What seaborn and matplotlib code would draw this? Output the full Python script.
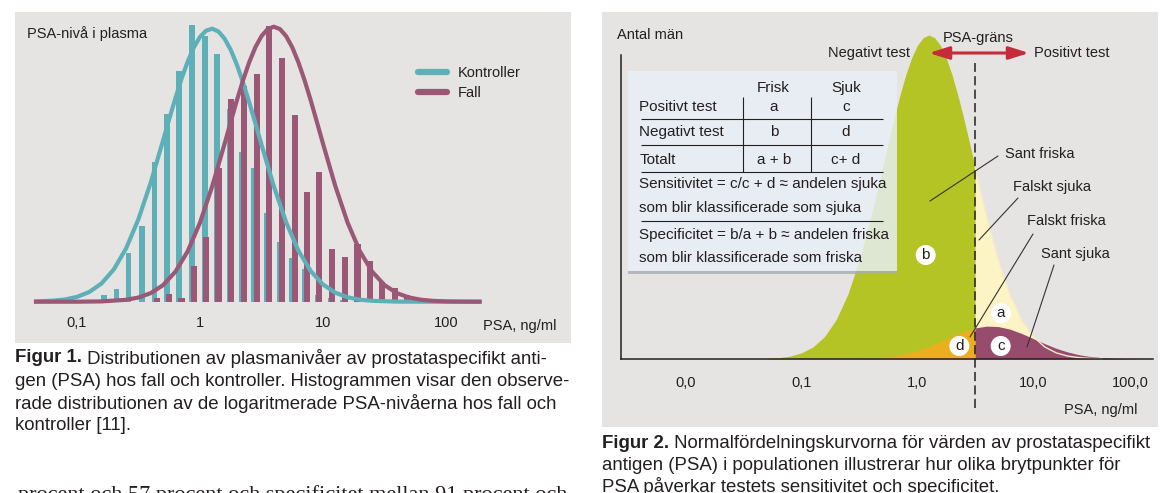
import numpy as np
import matplotlib.pyplot as plt
import seaborn as sns
from matplotlib.lines import Line2D
from matplotlib.patches import Rectangle, Circle, FancyArrowPatch

# ---------------- Figur 1: histogram of log10(PSA), bar heights as read ----------------
kontroller_log_psa = [-0.78, -0.68, -0.58, -0.47, -0.37, -0.27, -0.17, -0.065, 0.04, 0.14,
                      0.24, 0.34, 0.44, 0.545, 0.65, 0.75, 0.855, 0.96, 1.06, 1.16]
kontroller_antal = [7, 13, 49, 76, 140, 188, 231, 277, 266, 248,
                    193, 150, 134, 89, 60, 44, 33, 7, 4, 2]
fall_log_psa = [-0.35, -0.25, -0.15, -0.05, 0.05, 0.15, 0.25, 0.36, 0.46, 0.56, 0.665,
                0.77, 0.87, 0.97, 1.075, 1.18, 1.28, 1.38, 1.48, 1.585, 1.685, 1.79]
fall_antal = [4, 8, 4, 36, 65, 134, 203, 216, 228, 276, 244,
              187, 110, 130, 53, 45, 58, 41, 20, 14, 7, 3]

# fitted curves
kurva_x_kontroller = [-1.35, -1.2, -1.1, -1.0, -0.9, -0.8, -0.7, -0.6, -0.5, -0.4,
                      -0.3, -0.25, -0.2, -0.15, -0.1, -0.05, 0.0, 0.05, 0.1, 0.15,
                      0.2, 0.25, 0.3, 0.35, 0.4, 0.45, 0.5, 0.6, 0.7, 0.8,
                      0.9, 1.0, 1.1, 1.2, 1.3, 1.4, 1.6, 1.9, 2.29]
kurva_kontroller = [0.2, 1.0, 2.2, 4.8, 9.7, 18.3, 32.4, 53.5, 82.7, 119.4,
                    161.3, 182.7, 203.5, 223.0, 240.1, 254.3, 264.8, 271.1, 273.0, 270.2,
                    263.0, 251.8, 236.9, 219.2, 199.5, 178.5, 157.0, 115.5, 79.4, 51.0,
                    30.7, 17.2, 9.0, 4.4, 2.0, 0.9, 0.1, 0.0, 0.0]
kurva_x_fall = [-1.35, -1.0, -0.8, -0.6, -0.5, -0.4, -0.3, -0.2, -0.1, 0.0,
                0.1, 0.2, 0.25, 0.3, 0.35, 0.4, 0.45, 0.5, 0.55, 0.6,
                0.65, 0.7, 0.75, 0.8, 0.85, 0.9, 0.95, 1.0, 1.1, 1.2,
                1.3, 1.4, 1.5, 1.6, 1.7, 1.8, 1.9, 2.0, 2.1, 2.29]
kurva_fall = [0.0, 0.0, 0.3, 1.9, 4.2, 8.6, 16.6, 30.0, 50.4, 79.1,
              115.7, 158.0, 179.9, 201.4, 221.5, 239.4, 254.4, 265.6, 272.6, 275.0,
              272.6, 265.6, 254.4, 239.4, 221.5, 201.4, 179.9, 158.0, 115.7, 79.1,
              50.4, 30.0, 16.6, 8.6, 4.2, 1.9, 0.8, 0.3, 0.1, 0.0]
fig1_ticks = [0.1, 1, 10, 100]
fig1_ticklabels = ['0,1', '1', '10', '100']

# ---------------- Figur 2: normal curves for healthy / sick ----------------
frisk_log_psa = [-1.3, -1.2, -1.1, -1.0, -0.9, -0.8, -0.7, -0.6, -0.5, -0.4,
                 -0.3, -0.25, -0.2, -0.15, -0.1, -0.05, 0.0, 0.05, 0.1, 0.15,
                 0.2, 0.25, 0.3, 0.35, 0.4, 0.45, 0.5, 0.55, 0.6, 0.7,
                 0.8, 0.9, 1.0, 1.1, 1.2, 1.3, 1.4, 1.5, 1.6]
frisk_antal = [0.5, 1.3, 2.9, 6.1, 12.1, 22.6, 39.5, 64.7, 99.2, 142.4,
               191.5, 216.6, 241.0, 263.8, 284.1, 300.9, 313.5, 321.3, 324.0, 321.3,
               313.5, 300.9, 284.1, 263.8, 241.0, 216.6, 191.5, 166.5, 142.4, 99.2,
               64.7, 39.5, 22.6, 12.1, 6.1, 2.9, 1.3, 0.5, 0.2]
sjuk_log_psa = [-0.6, -0.5, -0.4, -0.3, -0.2, -0.1, 0.0, 0.1, 0.2, 0.3,
                0.4, 0.5, 0.6, 0.7, 0.8, 0.9, 1.0, 1.1, 1.2, 1.3,
                1.4, 1.5, 1.6, 1.7, 1.8, 1.9, 2.0]
sjuk_antal = [0.2, 0.4, 0.8, 1.7, 3.0, 5.2, 8.4, 12.5, 17.4, 22.6,
              27.5, 31.1, 32.9, 32.4, 29.9, 25.6, 20.5, 15.4, 10.7, 7.0,
              4.2, 2.4, 1.3, 0.6, 0.3, 0.1, 0.05]
psa_grans_log = 0.5   # log10 of the PSA cut-off (about 3 ng/ml)
fig2_ticks = [0.01, 0.1, 1, 10, 100]
fig2_ticklabels = ['0,0', '0,1', '1,0', '10,0', '100,0']

# colours
GRAY = '#E5E4E2'
TEAL = '#5EB0B8'
MAUVE = '#9B5876'
GREEN = '#B4C424'
YELLOW = '#FCF4C4'
ORANGE = '#EBAE1F'
MAROON = '#974C6E'
PALE = '#F3EAC8'
RED = '#C62B3B'
TXT = '#231F20'

sns.set_style("white")
plt.rcParams['font.family'] = ['Liberation Sans', 'DejaVu Sans']

W, H = 1173, 493
fig = plt.figure(figsize=(W / 100, H / 100), dpi=100)


def box(x0, y0, x1, y1):
    return [x0 / W, 1 - y1 / H, (x1 - x0) / W, (y1 - y0) / H]


ax1 = fig.add_axes(box(15, 12, 571, 343))
ax2 = fig.add_axes(box(602, 12, 1158, 427))
ov = fig.add_axes([0, 0, 1, 1])

# ---------------- left chart ----------------
ax1.set_facecolor(GRAY)
sns.barplot(x=kontroller_log_psa, y=kontroller_antal, native_scale=True, orient='x',
            color=TEAL, saturation=1, width=0.45, errorbar=None, linewidth=0, ax=ax1)
sns.barplot(x=fall_log_psa, y=fall_antal, native_scale=True, orient='x',
            color=MAUVE, saturation=1, width=0.5, errorbar=None, linewidth=0, ax=ax1)
sns.lineplot(x=kurva_x_kontroller, y=kurva_kontroller, color=TEAL, linewidth=3.0,
             solid_capstyle='butt', ax=ax1)
sns.lineplot(x=kurva_x_fall, y=kurva_fall, color=MAUVE, linewidth=3.0,
             solid_capstyle='butt', ax=ax1)

ax1.set_xlim((15 - 200) / 123, (571 - 200) / 123)
ax1.set_ylim(-41.3, 289.7)
ax1.set_xticks(np.log10(fig1_ticks), fig1_ticklabels)
minor = [m * 10.0 ** e for e in range(-2, 2) for m in range(2, 10)]
minor = [v for v in minor if v >= 0.04] + [200, 300]
ax1.set_xticks(np.log10(minor), minor=True)
ax1.set_yticks([])
ax1.set_xlabel('')
ax1.set_ylabel('')
for s in ax1.spines.values():
    s.set_visible(False)
ax1.spines['bottom'].set_position(('data', 0))
ax1.tick_params(axis='x', which='both', direction='out', color='#3a3a3a', width=0.8)
ax1.tick_params(axis='x', which='major', length=5.8, pad=4.3, labelsize=10.5, labelcolor=TXT)
ax1.tick_params(axis='x', which='minor', length=3.6)

handles = [Line2D([0], [0], color=TEAL, lw=4.5), Line2D([0], [0], color=MAUVE, lw=4.5)]
ax1.legend(handles, ['Kontroller', 'Fall'], loc='upper left',
           bbox_to_anchor=(418 / W, 1 - 66 / H), bbox_transform=fig.transFigure,
           frameon=False, fontsize=10.5, handlelength=2.0, handletextpad=0.75,
           labelspacing=0.4, borderpad=0, borderaxespad=0, labelcolor=TXT)

# ---------------- right chart ----------------
ax2.set_facecolor(GRAY)
xh = np.array(frisk_log_psa)
yh = np.array(frisk_antal)
xs = np.array(sjuk_log_psa)
ys = np.array(sjuk_antal)
lh, rh = xh <= psa_grans_log + 1e-9, xh >= psa_grans_log - 1e-9
ls, rs = xs <= psa_grans_log + 1e-9, xs >= psa_grans_log - 1e-9
ax2.fill_between(xh[lh], 0, yh[lh], color=GREEN, lw=0)
ax2.fill_between(xh[rh], 0, yh[rh], color=YELLOW, lw=0)
ax2.fill_between(xs[ls], 0, ys[ls], color=ORANGE, lw=0)
ax2.fill_between(xs[rs], 0, ys[rs], color=MAROON, lw=0)
sns.lineplot(x=xh[rh], y=yh[rh], color=PALE, linewidth=1.0, ax=ax2)
ax2.vlines(psa_grans_log, -49, 296, colors=TXT, linestyles=(0, (6, 2.8)), lw=1.1)

ax2.set_xlim((602 - 917.3) / 115.8, (1158 - 917.3) / 115.8)
ax2.set_ylim(-68, 347)
ax2.set_xticks(np.log10(fig2_ticks), fig2_ticklabels)
ax2.set_yticks([])
ax2.set_xlabel('')
ax2.set_ylabel('')
for k in ['top', 'right']:
    ax2.spines[k].set_visible(False)
y_axis_x = (620.7 - 917.3) / 115.8
ax2.spines['left'].set_position(('data', y_axis_x))
ax2.spines['left'].set_bounds(0, 304)
ax2.spines['bottom'].set_position(('data', 0))
ax2.spines['bottom'].set_bounds(y_axis_x, (1152.7 - 917.3) / 115.8)
for k in ['left', 'bottom']:
    ax2.spines[k].set_color(TXT)
    ax2.spines[k].set_linewidth(1.1)
ax2.tick_params(axis='x', direction='out', length=6.5, width=1.1, color=TXT, pad=6.0,
                labelsize=10.5, labelcolor=TXT)
ax2.get_xticklabels()[-1].set_ha('right')

# ---------------- overlay: texts, table, annotations ----------------
ov.set_xlim(0, W)
ov.set_ylim(H, 0)
ov.axis('off')


def T(x, y, s, size=10.5, **kw):
    kw.setdefault('va', 'center')
    return ov.text(x, y, s, fontsize=size, color=TXT, **kw)


T(27, 34, 'PSA-nivå i plasma')
T(483, 326, 'PSA, ng/ml')

T(617, 35, 'Antal män')
T(910, 53, 'Negativt test', ha='right')
T(978, 38, 'PSA-gräns', ha='center')
T(1034, 53, 'Positivt test')
ov.add_patch(FancyArrowPatch((929, 53), (1029, 53),
                             arrowstyle='<|-|>,head_length=12,head_width=3.8',
                             mutation_scale=1, lw=2.2, color=RED,
                             shrinkA=0, shrinkB=0))
T(1101, 410, 'PSA, ng/ml', ha='center')

# table box
ov.add_patch(Rectangle((628.3, 70.7), 268.4, 200, fc='#E8F0F8', ec='none', alpha=0.82))
ov.add_patch(Rectangle((628.3, 270.7), 268.4, 3.5, fc='#A9ADB0', ec='none', alpha=0.8))
TS = 11
T(772.7, 88.3, 'Frisk', TS, ha='center')
T(846, 88.3, 'Sjuk', TS, ha='center')
rows = [('Positivt test', 'a', 'c', 106.7), ('Negativt test', 'b', 'd', 131.7),
        ('Totalt', 'a + b', 'c+ d', 159.5)]
for lab, c1, c2, y in rows:
    T(639.3, y, lab, TS)
    T(774, y, c1, TS, ha='center')
    T(846, y, c2, TS, ha='center')
ov.hlines([119, 145.3, 171.7, 221], 641, 882.7, colors=TXT, lw=0.8)
ov.vlines([742.7, 810.7], 97.3, 171.7, colors=TXT, lw=0.8)
T(639.3, 184.3, 'Sensitivitet = c/c + d ≈ andelen sjuka', TS)
T(639.3, 208.3, 'som blir klassificerade som sjuka', TS)
T(639.3, 235, 'Specificitet = b/a + b ≈ andelen friska', TS)
T(639.3, 258.3, 'som blir klassificerade som friska', TS)

# annotation labels with leader lines
T(1005, 154, 'Sant friska')
T(1013, 187, 'Falskt sjuka')
T(1027, 221, 'Falskt friska')
T(1041, 254, 'Sant sjuka')
for (x0, y0, x1, y1) in [(998, 156, 930, 201), (1018, 198, 979, 240),
                         (1033, 234, 970, 337), (1054, 265, 1027, 347)]:
    ov.plot([x0, x1], [y0, y1], color='#333333', lw=0.8)

for lab, x, y in [('b', 925.7, 255), ('a', 1001, 313.3), ('d', 959.3, 346), ('c', 1000.7, 346)]:
    ov.add_patch(Circle((x, y), 10, fc='white', ec='none'))
    T(x, y, lab, 11, ha='center')

# captions
renderer = fig.canvas.get_renderer()


def caption(x, y, bold, rest, target):
    t1 = ov.text(x, y, bold, fontsize=12, fontweight='bold', color=TXT, va='center')
    t2 = ov.text(x, y, rest, fontsize=12, color=TXT, va='center')
    w = t1.get_window_extent(renderer).width + t2.get_window_extent(renderer).width
    size = 12 * target / w
    t1.set_fontsize(size)
    t2.set_fontsize(size)
    t2.set_x(x + t1.get_window_extent(renderer).width)
    return size


cs = caption(15, 358, 'Figur 1.', ' Distributionen av plasmanivåer av prostataspecifikt anti-', 533)
for i, line in enumerate(['gen (PSA) hos fall och kontroller. Histogrammen visar den observe-',
                          'rade distributionen av de logaritmerade PSA-nivåerna hos fall och',
                          'kontroller [11].']):
    T(15, 381 + 22.5 * i, line, cs)

cs2 = caption(602, 443, 'Figur 2.', ' Normalfördelningskurvorna för värden av prostataspecifikt', 553)
for i, line in enumerate(['antigen (PSA) i populationen illustrerar hur olika brytpunkter för',
                          'PSA påverkar testets sensitivitet och specificitet.']):
    T(602, 465 + 21.5 * i, line, cs2)

ov.text(18, 500, 'procent och 57 procent och specificitet mellan 91 procent och',
        fontsize=16, family=['Liberation Serif', 'DejaVu Serif'], color=TXT, va='baseline')

fig.savefig('out.png', dpi=100)
